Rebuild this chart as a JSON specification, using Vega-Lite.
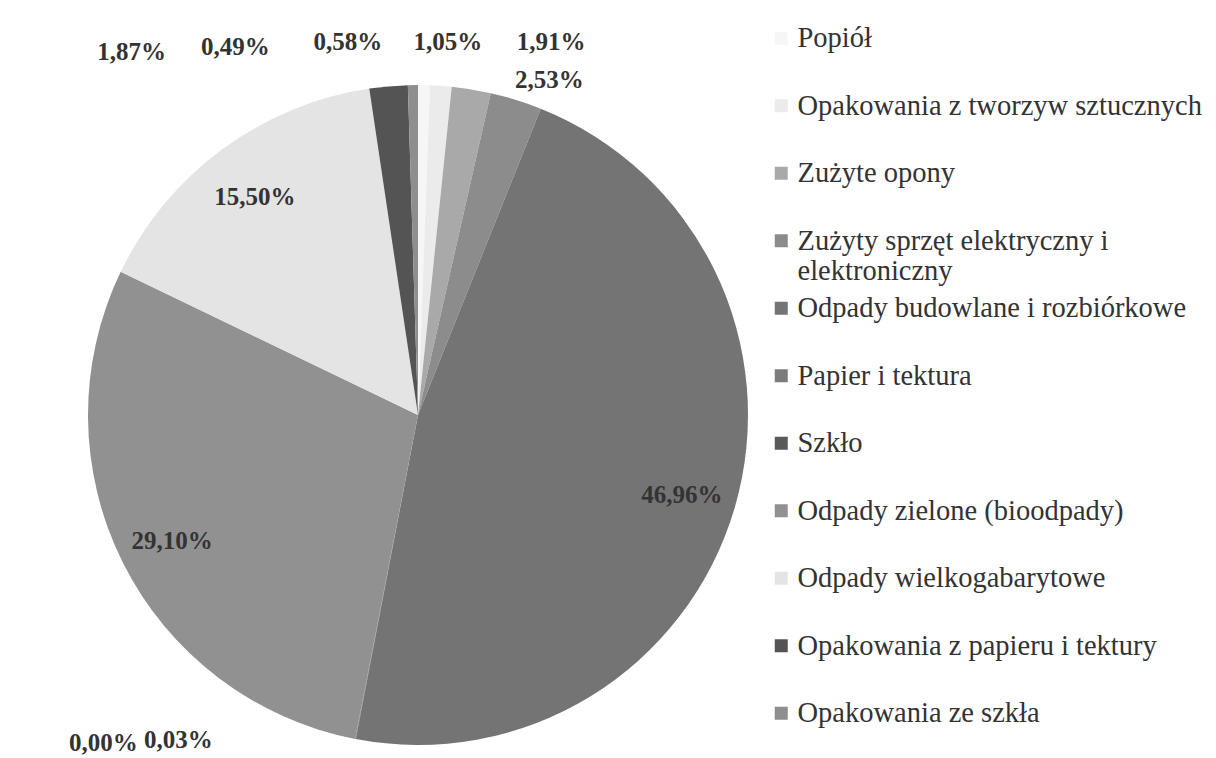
{
  "$schema": "https://vega.github.io/schema/vega-lite/v6.json",
  "width": 836,
  "height": 660,
  "autosize": {"type": "none"},
  "padding": {"left": 0, "top": 85, "right": 380, "bottom": 13},
  "background": "white",
  "config": {"view": {"stroke": null}},
  "data": {
    "values": [
      {"idx": 1, "cat": "Popiół", "v": 0.58, "label": "0,58%"},
      {"idx": 2, "cat": "Opakowania z tworzyw sztucznych", "v": 1.05, "label": "1,05%"},
      {"idx": 3, "cat": "Zużyte opony", "v": 1.91, "label": "1,91%"},
      {"idx": 4, "cat": "Zużyty sprzęt elektryczny i elektroniczny", "v": 2.53, "label": "2,53%"},
      {"idx": 5, "cat": "Odpady budowlane i rozbiórkowe", "v": 46.96, "label": "46,96%"},
      {"idx": 6, "cat": "Papier i tektura", "v": 0.03, "label": "0,03%"},
      {"idx": 7, "cat": "Szkło", "v": 0.0, "label": "0,00%"},
      {"idx": 8, "cat": "Odpady zielone (bioodpady)", "v": 29.10, "label": "29,10%"},
      {"idx": 9, "cat": "Odpady wielkogabarytowe", "v": 15.50, "label": "15,50%"},
      {"idx": 10, "cat": "Opakowania z papieru i tektury", "v": 1.87, "label": "1,87%"},
      {"idx": 11, "cat": "Opakowania ze szkła", "v": 0.49, "label": "0,49%"}
    ]
  },
  "encoding": {
    "theta": {"field": "v", "type": "quantitative", "stack": true},
    "order": {"field": "idx", "type": "quantitative", "sort": "ascending"}
  },
  "layer": [
    {
      "mark": {"type": "arc", "radius": 330, "strokeWidth": 0},
      "encoding": {
        "color": {
          "field": "cat",
          "type": "nominal",
          "sort": ["Popiół", "Opakowania z tworzyw sztucznych", "Zużyte opony", "Zużyty sprzęt elektryczny i elektroniczny", "Odpady budowlane i rozbiórkowe", "Papier i tektura", "Szkło", "Odpady zielone (bioodpady)", "Odpady wielkogabarytowe", "Opakowania z papieru i tektury", "Opakowania ze szkła"],
          "scale": {
            "domain": ["Popiół", "Opakowania z tworzyw sztucznych", "Zużyte opony", "Zużyty sprzęt elektryczny i elektroniczny", "Odpady budowlane i rozbiórkowe", "Papier i tektura", "Szkło", "Odpady zielone (bioodpady)", "Odpady wielkogabarytowe", "Opakowania z papieru i tektury", "Opakowania ze szkła"],
            "range": ["#f6f6f6", "#ebebeb", "#a9a9a9", "#8c8c8c", "#747474", "#7c7c7c", "#595959", "#919191", "#e4e4e4", "#545454", "#8e8e8e"]
          },
          "legend": {
            "orient": "none",
            "legendX": 767,
            "legendY": -61,
            "title": null,
            "symbolType": "square",
            "symbolSize": 169,
            "symbolStrokeWidth": 0,
            "labelFont": "Liberation Serif",
            "labelFontSize": 28.5,
            "labelColor": "#333333",
            "labelLimit": 600,
            "labelOffset": 2,
            "rowPadding": 7.5,
            "gridAlign": "all",
            "labelExpr": "datum.label == 'Zużyty sprzęt elektryczny i elektroniczny' ? ['Zużyty sprzęt elektryczny i', 'elektroniczny'] : datum.label"
          }
        }
      }
    },
    {
      "mark": {"type": "text", "radius": 275, "dy": 3, "font": "Liberation Serif", "fontSize": 25, "fontWeight": "bold", "fill": "#333333"},
      "encoding": {"detail": {"field": "cat"}, "text": {"condition": {"test": "datum.v >= 10", "field": "label"}, "value": ""}}
    },
    {
      "mark": {"type": "text", "radius": 363, "dx": -254, "dy": -1, "font": "Liberation Serif", "fontSize": 25, "fontWeight": "bold", "fill": "#333333"},
      "encoding": {"detail": {"field": "cat"}, "text": {"condition": {"test": "datum.idx == 10", "field": "label"}, "value": ""}}
    },
    {
      "mark": {"type": "text", "radius": 368, "dx": -177, "font": "Liberation Serif", "fontSize": 25, "fontWeight": "bold", "fill": "#333333"},
      "encoding": {"detail": {"field": "cat"}, "text": {"condition": {"test": "datum.idx == 11", "field": "label"}, "value": ""}}
    },
    {
      "mark": {"type": "text", "radius": 373, "dx": -77, "font": "Liberation Serif", "fontSize": 25, "fontWeight": "bold", "fill": "#333333"},
      "encoding": {"detail": {"field": "cat"}, "text": {"condition": {"test": "datum.idx == 1", "field": "label"}, "value": ""}}
    },
    {
      "mark": {"type": "text", "radius": 374, "dx": 4, "font": "Liberation Serif", "fontSize": 25, "fontWeight": "bold", "fill": "#333333"},
      "encoding": {"detail": {"field": "cat"}, "text": {"condition": {"test": "datum.idx == 2", "field": "label"}, "value": ""}}
    },
    {
      "mark": {"type": "text", "radius": 378, "dx": 72, "font": "Liberation Serif", "fontSize": 25, "fontWeight": "bold", "fill": "#333333"},
      "encoding": {"detail": {"field": "cat"}, "text": {"condition": {"test": "datum.idx == 3", "field": "label"}, "value": ""}}
    },
    {
      "mark": {"type": "text", "radius": 351, "dx": 27, "font": "Liberation Serif", "fontSize": 25, "fontWeight": "bold", "fill": "#333333"},
      "encoding": {"detail": {"field": "cat"}, "text": {"condition": {"test": "datum.idx == 4", "field": "label"}, "value": ""}}
    },
    {
      "mark": {"type": "text", "radius": 331, "dx": -177, "font": "Liberation Serif", "fontSize": 25, "fontWeight": "bold", "fill": "#333333"},
      "encoding": {"detail": {"field": "cat"}, "text": {"condition": {"test": "datum.idx == 6", "field": "label"}, "value": ""}}
    },
    {
      "mark": {"type": "text", "radius": 334, "dx": -251, "font": "Liberation Serif", "fontSize": 25, "fontWeight": "bold", "fill": "#333333"},
      "encoding": {"detail": {"field": "cat"}, "text": {"condition": {"test": "datum.idx == 7", "field": "label"}, "value": ""}}
    }
  ]
}
